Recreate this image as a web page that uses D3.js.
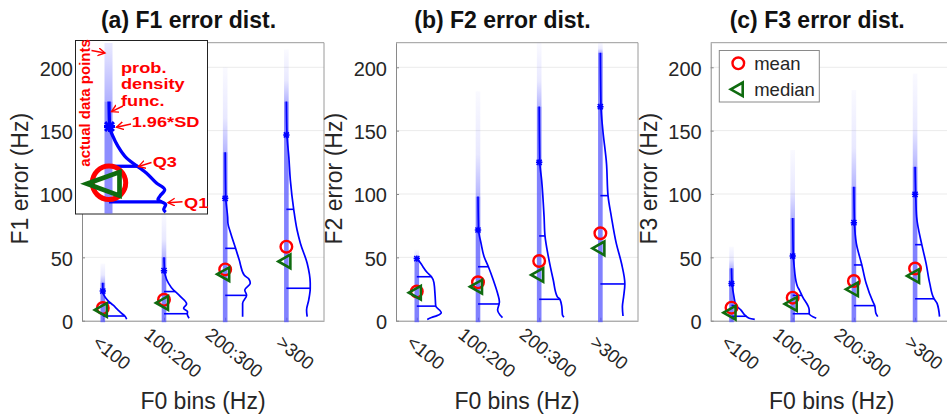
<!DOCTYPE html>
<html><head><meta charset="utf-8">
<script src="https://cdn.jsdelivr.net/npm/d3@7"></script>
<style>
body{margin:0;background:#fff}
text{font-family:"Liberation Sans",Arial,Helvetica,sans-serif}
</style>
</head><body>
<svg id="c" width="947" height="418"></svg>
<script>
// ---------------- data ----------------
const categories = ["<100", "100:200", "200:300", ">300"];
const titles = ["(a) F1 error dist.", "(b) F2 error dist.", "(c) F3 error dist."];
const yLabels = ["F1 error (Hz)", "F2 error (Hz)", "F3 error (Hz)"];
const xLabel = "F0 bins (Hz)";
const yTicks = [0, 50, 100, 150, 200];
const legendLabels = ["mean", "median"];

const meanF1 = [10, 16.5, 40.5, 58.4];
const meanF2 = [23, 30.3, 47.1, 69];
const meanF3 = [10.3, 18.2, 31.3, 41.2];
const medianF1 = [8.5, 14, 36.7, 46.8];
const medianF2 = [22.1, 26.8, 36.1, 57.1];
const medianF3 = [6.3, 13.2, 24.8, 35.3];
const sd196F1 = [23.4, 39.5, 96.6, 146.6];
const sd196F2 = [49, 71.6, 125, 168.9];
const sd196F3 = [29.3, 51, 77.4, 99.7];
const q1F1 = [3.7, 5.5, 20, 25.6];
const q1F2 = [11.5, 13.2, 16.9, 29];
const q1F3 = [3.5, 5.5, 11.9, 17.3];
const q3F1 = [14, 23, 57.1, 87.9];
const q3F2 = [34.7, 42.6, 66.9, 98.7];
const q3F3 = [12, 20, 44, 60];
const maxF1 = [45, 85, 200, 214];
const maxF2 = [56, 181, 230, 230];
const maxF3 = [58.4, 134.7, 182, 195];

// density curves: [error value, density (in category widths)]
const pdfF1 = [
  [[30,0],[23.4,0],[20,0.02],[16,0.08],[12.2,0.17],[8.4,0.25],[5.3,0.32],[3.7,0.36],[1.1,0.39]],
  [[50,0],[39.5,0.01],[36,0.02],[29.5,0.075],[24,0.16],[22.9,0.185],[19,0.27],[13.2,0.37],[9.8,0.32],[7.1,0.385],[5.3,0.38],[1.9,0.41]],
  [[133,0],[96.6,0.01],[82,0.04],[76.9,0.045],[69,0.09],[57.1,0.17],[47.9,0.23],[36,0.31],[32.7,0.39],[29.5,0.41],[24.2,0.32],[20,0.35],[13.7,0.285],[3.2,0.285]],
  [[173,0],[146.6,0.01],[129.4,0.04],[111,0.065],[87.9,0.12],[71.6,0.175],[61,0.23],[45.3,0.34],[29.5,0.39],[25.6,0.39],[16.3,0.365],[8.4,0.33],[3.2,0.34]]
];
const pdfF2 = [
  [[49,0],[45,0.07],[42.6,0.1],[38,0.17],[34.7,0.24],[30,0.28],[19,0.3],[11.5,0.31],[8.4,0.37],[6.3,0.4],[4,0.33],[2.5,0.24],[1,0.17]],
  [[98,0],[71.6,0.01],[61,0.05],[50.5,0.1],[42.6,0.17],[32.1,0.25],[21.6,0.32],[15,0.35],[13.2,0.345],[8.4,0.32],[4.5,0.36],[2.5,0.4]],
  [[169,0],[125,0.01],[111,0.04],[82,0.08],[66.9,0.095],[50.5,0.15],[32.1,0.23],[19,0.295],[16.9,0.34],[11,0.37],[4.5,0.38],[2.7,0.405]],
  [[211.5,0],[168.9,0.01],[150.5,0.04],[124.2,0.1],[98.7,0.125],[82,0.18],[61,0.26],[45.3,0.345],[29,0.4],[19,0.38],[11,0.36],[3.7,0.37]]
];
const pdfF3 = [
  [[41.4,0],[29.3,0.01],[19,0.04],[12.4,0.07],[8.4,0.155],[3.7,0.235],[1.9,0.29],[1.1,0.38]],
  [[81,0],[51,0.01],[40,0.03],[37.4,0.035],[26.8,0.08],[24.2,0.11],[19,0.16],[8.4,0.27],[5.5,0.27],[1.9,0.385]],
  [[105.8,0],[77.4,0.01],[61,0.04],[44,0.13],[29.5,0.2],[15,0.31],[11.9,0.34],[5.8,0.36],[3.2,0.39]],
  [[121.5,0],[99.7,0.01],[82,0.025],[60,0.11],[45.3,0.18],[29.5,0.24],[17.3,0.31],[13.7,0.36],[3.2,0.4]]
];

// inset (illustration) values
const insetPdf = [[65.7,0],[51,0.01],[45.2,0.065],[39.4,0.147],[32.6,0.284],[23.8,0.61],[17.9,0.775],[14,0.91],[10.1,0.83],[8.2,0.8],[5.3,0.926],[2.3,0.894],[0.8,0.926]];
const insetStats = {mean: 18, median: 17.4, sd196: 51, q1: 6.8, q3: 27.7, max: 100};
const insetNotes = ["prob.", "density", "func.", "1.96*SD", "Q3", "Q1", "actual data points"];

// ---------------- drawing ----------------
const svg = d3.select("#c");
const defs = svg.append("defs");
const panelLeft = [82, 396, 710.7], panelW = 242, plotTop = 42.7, plotBottom = 320.7;
const yMax = 219.4;
const RED = "#ff0000", GREEN = "#0f6b0f", BLUE = "#0000ff", BAR = "#5050ff";

function widthAt(curve, v) {
  for (let k = 0; k < curve.length - 1; k++) {
    const a = curve[k], b = curve[k + 1];
    if (v <= a[0] && v >= b[0]) {
      const t = (a[0] - v) / (a[0] - b[0]);
      return a[1] + t * (b[1] - a[1]);
    }
  }
  return curve[curve.length - 1][1];
}
function triPath(cx, cy, tip, back, half) {
  return `M${cx - tip},${cy} L${cx + back},${cy - half} L${cx + back},${cy + half} Z`;
}
function starPath(cx, cy, s) {
  return `M${cx - s},${cy} L${cx + s},${cy} M${cx - s * 0.8},${cy - s * 0.8} L${cx + s * 0.8},${cy + s * 0.8} M${cx - s * 0.8},${cy + s * 0.8} L${cx + s * 0.8},${cy - s * 0.8} M${cx},${cy - s} L${cx},${cy + s}`;
}

const panels = [
  {mean: meanF1, median: medianF1, sd: sd196F1, q1: q1F1, q3: q3F1, max: maxF1, pdf: pdfF1},
  {mean: meanF2, median: medianF2, sd: sd196F2, q1: q1F2, q3: q3F2, max: maxF2, pdf: pdfF2},
  {mean: meanF3, median: medianF3, sd: sd196F3, q1: q1F3, q3: q3F3, max: maxF3, pdf: pdfF3}
];

panels.forEach((p, pi) => {
  const L = panelLeft[pi];
  const x = d3.scaleLinear().domain([0.66, 4.615]).range([L, L + panelW]);
  const y = d3.scaleLinear().domain([0, yMax]).range([plotBottom, plotTop]);
  const unit = x(2) - x(1);
  const g = svg.append("g");

  g.selectAll("line.grid").data(yTicks.filter(t => t > 0)).join("line")
    .attr("x1", L).attr("x2", L + panelW)
    .attr("y1", d => y(d)).attr("y2", d => y(d))
    .attr("stroke", "#ebebeb").attr("stroke-width", 1);
  g.append("path").attr("d", `M${L},${plotTop} L${L + panelW},${plotTop} L${L + panelW},${plotBottom}`)
    .attr("fill", "none").attr("stroke", "#9a9a9a").attr("stroke-width", 1);

  const ya = g.append("g").attr("transform", `translate(${L},0)`)
    .call(d3.axisLeft(y).tickValues(yTicks).tickSizeInner(-3).tickSizeOuter(0).tickPadding(9));
  ya.select(".domain").attr("stroke", "#8a8a8a");
  ya.selectAll(".tick line").attr("stroke", "#8a8a8a");
  ya.selectAll(".tick text").attr("font-size", 20).attr("fill", "#262626").attr("dy", "0.4em")
    .style("font-family", '"Liberation Sans",Arial,sans-serif');

  const xa = g.append("g").attr("transform", `translate(0,${plotBottom})`)
    .call(d3.axisBottom(x).tickValues([1, 2, 3, 4]).tickFormat((d, i) => categories[i])
      .tickSizeInner(-3).tickSizeOuter(0).tickPadding(0));
  xa.select(".domain").attr("stroke", "#8a8a8a");
  xa.selectAll(".tick line").attr("stroke", "#8a8a8a");
  xa.selectAll(".tick text").attr("font-size", 18.5).attr("fill", "#262626")
    .attr("text-anchor", "middle").attr("x", 0).attr("y", 0).attr("dy", 0)
    .attr("transform", "translate(4.5,37) rotate(39)")
    .style("font-family", '"Liberation Sans",Arial,sans-serif');

  g.append("text").attr("x", L + panelW / 2).attr("y", 409).attr("text-anchor", "middle")
    .attr("font-size", 23).attr("fill", "#262626").text(xLabel);
  g.append("text").attr("transform", `translate(${L - 54},${(plotTop + plotBottom) / 2 - 3}) rotate(-90)`)
    .attr("text-anchor", "middle").attr("font-size", 23).attr("fill", "#262626").text(yLabels[pi]);
  g.append("text").attr("x", L + 106.5).attr("y", 28).attr("text-anchor", "middle")
    .attr("font-size", 23).attr("font-weight", "bold").attr("fill", "#111").text(titles[pi]);

  categories.forEach((c, i) => {
    const cx = x(i + 1);
    const curve = p.pdf[i];
    const pdfTop = curve[0][0];
    const yTopData = y(Math.min(p.max[i], yMax));
    const gid = `grad${pi}_${i}`;
    const lg = defs.append("linearGradient").attr("id", gid).attr("gradientUnits", "userSpaceOnUse")
      .attr("x1", 0).attr("x2", 0).attr("y1", yTopData).attr("y2", y(pdfTop));
    lg.append("stop").attr("offset", 0).attr("stop-color", BAR).attr("stop-opacity", 0.03);
    lg.append("stop").attr("offset", 0.6).attr("stop-color", BAR).attr("stop-opacity", 0.13);
    lg.append("stop").attr("offset", 1).attr("stop-color", BAR).attr("stop-opacity", 0.42);
    g.append("rect").attr("x", cx - 2.3).attr("width", 4.6)
      .attr("y", yTopData).attr("height", y(pdfTop) - yTopData)
      .attr("fill", `url(#${gid})`);
    g.append("rect").attr("x", cx - 2.3).attr("width", 4.6)
      .attr("y", y(pdfTop)).attr("height", plotBottom + 1.5 - y(pdfTop))
      .attr("fill", BAR).attr("fill-opacity", 0.72);

    const line = d3.line().x(d => cx + d[1] * unit).y(d => y(d[0])).curve(d3.curveMonotoneY);
    g.append("path").attr("d", line(curve)).attr("fill", "none").attr("stroke", BLUE).attr("stroke-width", 1.7);
    [p.q1[i], p.q3[i]].forEach(q => {
      g.append("line").attr("x1", cx).attr("x2", cx + widthAt(curve, q) * unit)
        .attr("y1", y(q)).attr("y2", y(q)).attr("stroke", BLUE).attr("stroke-width", 1.6);
    });
    g.append("path").attr("d", starPath(cx, y(p.sd[i]), 3.2)).attr("stroke", BLUE).attr("stroke-width", 1.5).attr("fill", "none");
    g.append("circle").attr("cx", cx).attr("cy", y(p.mean[i])).attr("r", 5.8)
      .attr("fill", "none").attr("stroke", RED).attr("stroke-width", 2.4);
    g.append("path").attr("d", triPath(cx - 1, y(p.median[i]), 7, 5, 6.8))
      .attr("fill", "none").attr("stroke", GREEN).attr("stroke-width", 2.6);
  });

  if (pi === 2) {
    const lgG = g.append("g");
    lgG.append("rect").attr("x", L + 8.6).attr("y", 50.5).attr("width", 100).attr("height", 51.5)
      .attr("fill", "#fff").attr("stroke", "#8a8a8a").attr("stroke-width", 1);
    lgG.append("circle").attr("cx", L + 27.6).attr("cy", 63.3).attr("r", 5.8)
      .attr("fill", "none").attr("stroke", RED).attr("stroke-width", 2.4);
    lgG.append("path").attr("d", triPath(L + 27, 89.3, 7, 5, 6.8))
      .attr("fill", "none").attr("stroke", GREEN).attr("stroke-width", 2.6);
    lgG.selectAll("text").data(legendLabels).join("text")
      .attr("x", L + 43.5).attr("y", (d, k) => 70 + k * 25.5)
      .attr("font-size", 18.5).attr("fill", "#262626").text(d => d);
  }
});

// ---------------- inset ----------------
(function () {
  const ins = svg.append("g");
  ins.append("rect").attr("x", 75.5).attr("y", 40.5).attr("width", 132).attr("height", 173.5)
    .attr("fill", "#fff").attr("stroke", "#222").attr("stroke-width", 1);
  const iy = d3.scaleLinear().domain([0, 100]).range([213.5, 43]);
  const icx = 109, iunit = 61.2;
  const pdfTop = insetPdf[0][0];
  const lg = defs.append("linearGradient").attr("id", "gradInset").attr("gradientUnits", "userSpaceOnUse")
    .attr("x1", 0).attr("x2", 0).attr("y1", iy(insetStats.max)).attr("y2", iy(pdfTop));
  lg.append("stop").attr("offset", 0).attr("stop-color", BAR).attr("stop-opacity", 0.12);
  lg.append("stop").attr("offset", 1).attr("stop-color", BAR).attr("stop-opacity", 0.45);
  ins.append("rect").attr("x", icx - 4.5).attr("width", 8).attr("y", iy(insetStats.max))
    .attr("height", iy(pdfTop) - iy(insetStats.max)).attr("fill", "url(#gradInset)");
  ins.append("rect").attr("x", icx - 4.5).attr("width", 8).attr("y", iy(pdfTop))
    .attr("height", 213.5 - iy(pdfTop)).attr("fill", BAR).attr("fill-opacity", 0.65);
  const line = d3.line().x(d => icx + d[1] * iunit).y(d => iy(d[0])).curve(d3.curveMonotoneY);
  ins.append("path").attr("d", line(insetPdf)).attr("fill", "none").attr("stroke", BLUE).attr("stroke-width", 3.3);
  [insetStats.q1, insetStats.q3].forEach(q => {
    ins.append("line").attr("x1", icx).attr("x2", icx + widthAt(insetPdf, q) * iunit)
      .attr("y1", iy(q)).attr("y2", iy(q)).attr("stroke", BLUE).attr("stroke-width", 3.3);
  });
  ins.append("path").attr("d", starPath(icx + 0.5, iy(insetStats.sd196), 5.5)).attr("stroke", BLUE).attr("stroke-width", 3).attr("fill", "none");
  ins.append("circle").attr("cx", icx).attr("cy", iy(insetStats.mean)).attr("r", 16.7)
    .attr("fill", "none").attr("stroke", RED).attr("stroke-width", 5);
  ins.append("path").attr("d", triPath(icx - 6, iy(insetStats.median), 16, 16.5, 11.8))
    .attr("fill", "none").attr("stroke", GREEN).attr("stroke-width", 4.7);

  const mk = defs.append("marker").attr("id", "arr").attr("markerUnits", "userSpaceOnUse")
    .attr("markerWidth", 10).attr("markerHeight", 10).attr("refX", 7).attr("refY", 4).attr("orient", "auto");
  mk.append("path").attr("d", "M0,0 L7,4 L0,8").attr("fill", "none").attr("stroke", RED).attr("stroke-width", 1.4);
  const notePos = [[121, 72.7], [121, 89.4], [121, 106.1], [131.7, 127.3], [152.7, 166.7], [184, 208.3]];
  notePos.forEach((pt, k) => {
    ins.append("text").attr("transform", `translate(${pt[0]},${pt[1]}) scale(1.3,1)`)
      .attr("font-size", 14).attr("font-weight", "bold").attr("fill", RED).text(insetNotes[k]);
  });
  ins.append("text").attr("transform", "translate(89.5,166.7) rotate(-90)").attr("font-size", 15)
    .attr("font-weight", "bold").attr("fill", RED).text(insetNotes[6]);
  const arrows = [[91.5, 50.5, 105, 53], [123, 106, 111.5, 111.7], [131, 124, 116.5, 127.3], [151.5, 162.5, 138.5, 166.5], [182.5, 201.7, 168, 202.7]];
  arrows.forEach(a => {
    ins.append("line").attr("x1", a[0]).attr("y1", a[1]).attr("x2", a[2]).attr("y2", a[3])
      .attr("stroke", RED).attr("stroke-width", 1.4).attr("marker-end", "url(#arr)");
  });
})();
</script>
</body></html>
